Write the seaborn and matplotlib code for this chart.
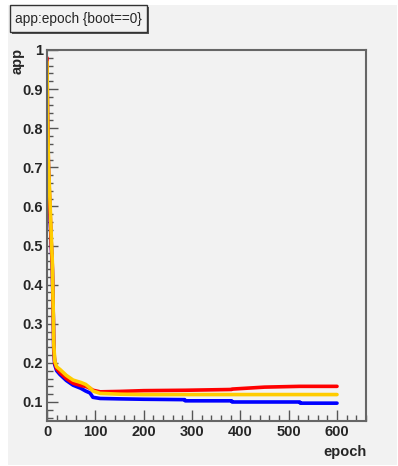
import matplotlib
matplotlib.use("Agg")
import matplotlib.pyplot as plt
from matplotlib.patches import Rectangle
from matplotlib.ticker import MultipleLocator
import pandas as pd
import seaborn as sns

# values
epoch = [0, 1, 3, 6, 9, 11, 13, 14, 16, 20, 27, 40, 54, 70, 80, 89, 95, 110,
         150, 200, 285, 286, 382, 383, 450, 523, 524, 600]
app_red = [0.98, 0.84, 0.70, 0.60, 0.50, 0.45, 0.32, 0.24, 0.200, 0.185, 0.175,
           0.160, 0.148, 0.142, 0.140, 0.135, 0.130, 0.126, 0.127, 0.129,
           0.130, 0.130, 0.132, 0.133, 0.138, 0.140, 0.140, 0.140]
app_yellow = [0.97, 0.85, 0.71, 0.62, 0.52, 0.46, 0.33, 0.25, 0.205, 0.190,
              0.183, 0.168, 0.156, 0.150, 0.145, 0.136, 0.128, 0.122, 0.120,
              0.119, 0.119, 0.119, 0.119, 0.119, 0.119, 0.119, 0.119, 0.119]
app_blue = [0.96, 0.82, 0.69, 0.58, 0.50, 0.44, 0.32, 0.23, 0.195, 0.180,
            0.170, 0.155, 0.143, 0.135, 0.128, 0.123, 0.112, 0.109, 0.108,
            0.107, 0.106, 0.103, 0.103, 0.100, 0.100, 0.100, 0.097, 0.097]

df = pd.DataFrame({"epoch": epoch, "blue": app_blue,
                   "red": app_red, "yellow": app_yellow})
long = df.melt(id_vars="epoch", var_name="run", value_name="app")

sns.set_style("ticks")
plt.rcParams["font.family"] = ["Liberation Sans", "DejaVu Sans"]

W, H = 398, 466
fig = plt.figure(figsize=(W / 100, H / 100), dpi=100, facecolor="white")
# grey canvas
fig.patches.append(Rectangle((8 / W, 1 / H), 389 / W, 460 / H,
                             transform=fig.transFigure, facecolor="#f2f2f2",
                             edgecolor="none", zorder=-10))
# title box with shadow
fig.patches.append(Rectangle((11.5 / W, 1 - 33.5 / H), 137 / W, 27 / H,
                             transform=fig.transFigure, facecolor="#555555",
                             edgecolor="none", zorder=1))
fig.patches.append(Rectangle((10 / W, 1 - 32 / H), 137 / W, 27 / H,
                             transform=fig.transFigure, facecolor="#f2f2f2",
                             edgecolor="#333333", linewidth=1, zorder=2))
fig.text(78.5 / W, 1 - 18.5 / H, "app:epoch {boot==0}", ha="center",
         va="center", fontsize=9.8, zorder=3)

ax = fig.add_axes([47 / W, 1 - 421 / H, 319 / W, 371 / H])
ax.set_facecolor("#f2f2f2")

sns.lineplot(data=long, x="epoch", y="app", hue="run",
             hue_order=["blue", "red", "yellow"],
             palette={"blue": "#0000ff", "red": "#ff0000", "yellow": "#ffcc00"},
             linewidth=2.6, legend=False, ax=ax)

ax.set_xlim(0, 660)
ax.set_ylim(0.0514, 1.0)
ax.xaxis.set_major_locator(MultipleLocator(100))
ax.xaxis.set_minor_locator(MultipleLocator(20))
ax.yaxis.set_minor_locator(MultipleLocator(0.02))
ax.set_yticks([0.1, 0.2, 0.3, 0.4, 0.5, 0.6, 0.7, 0.8, 0.9, 1.0])
ax.set_yticklabels(["0.1", "0.2", "0.3", "0.4", "0.5", "0.6", "0.7",
                    "0.8", "0.9", "1"])
ax.tick_params(which="both", direction="in", top=False, right=False,
               color="#555555", labelsize=10.5, pad=3)
ax.tick_params(which="major", length=8, width=1)
ax.tick_params(which="minor", length=4, width=1)
for lab in ax.get_xticklabels() + ax.get_yticklabels():
    lab.set_fontweight("bold")

for side in ["left", "bottom", "top", "right"]:
    ax.spines[side].set_visible(True)
    ax.spines[side].set_color("#666666")
    ax.spines[side].set_linewidth(1.5)

ax.set_xlabel("")
ax.set_ylabel("")
fig.text(367 / W, 1 - 445 / H, "epoch", ha="right", va="top",
         fontsize=10.5, fontweight="bold")
fig.text(11 / W, 1 - 48 / H, "app", ha="left", va="top", rotation=90,
         fontsize=10.5, fontweight="bold")

fig.savefig("out.png", dpi=100, facecolor="white")
